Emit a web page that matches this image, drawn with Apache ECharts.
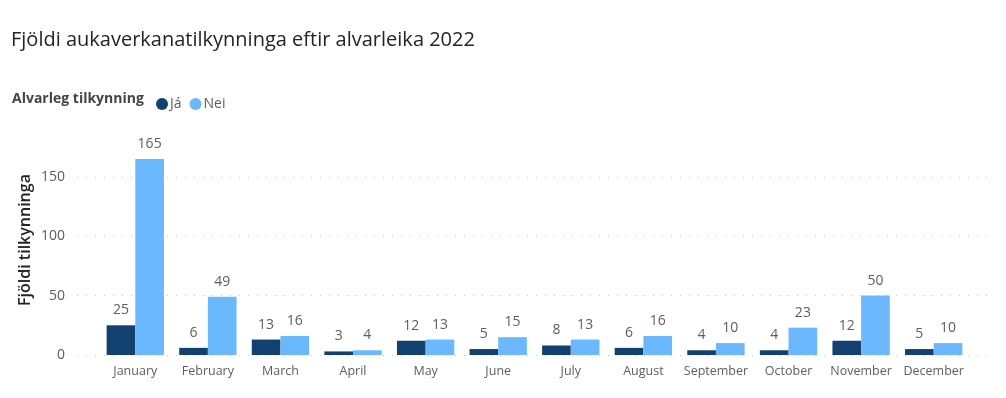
<!DOCTYPE html>
<html>
<head>
<meta charset="utf-8">
<script src="https://cdn.jsdelivr.net/npm/echarts@6/dist/echarts.min.js"></script>
<style>
  html, body { margin: 0; padding: 0; background: #fff; }
  #chart { width: 1006px; height: 398px; }
</style>
</head>
<body>
<div id="chart"></div>
<script>
const months = ['January', 'February', 'March', 'April', 'May', 'June', 'July', 'August', 'September', 'October', 'November', 'December'];
const jaValues = [25, 6, 13, 3, 12, 5, 8, 6, 4, 4, 12, 5];
const neiValues = [165, 49, 16, 4, 13, 15, 13, 16, 10, 23, 50, 10];
const yTicks = [0, 50, 100, 150];

const font = '"Open Sans", "Noto Sans", sans-serif';
const gray = '#605E5C';

const chart = echarts.init(document.getElementById('chart'));

// y scale shared by both grids
const yMax = 170;

chart.setOption({
    animation: false,
    textStyle: { fontFamily: font },
    title: {
        text: 'Fjöldi aukaverkanatilkynninga eftir alvarleika 2022',
        left: 6,
        top: 25,
        textStyle: { fontSize: 20, fontWeight: 'normal', color: '#252423', fontFamily: font }
    },
    graphic: [
        {
            type: 'text',
            left: 12,
            top: 92,
            style: { text: 'Alvarleg tilkynning', fontSize: 14, fontWeight: 'bold', fill: '#444', fontFamily: font }
        },
        {
            // y axis title
            type: 'text',
            x: 25,
            y: 240,
            rotation: Math.PI / 2,
            style: {
                text: 'Fjöldi tilkynninga', fontSize: 16, fontWeight: 600, fill: '#252423',
                fontFamily: font, align: 'center', verticalAlign: 'middle'
            }
        }
    ],
    legend: {
        left: 151,
        top: 92,
        icon: 'circle',
        itemWidth: 12,
        itemHeight: 12,
        itemGap: 8,
        textStyle: { fontSize: 14, color: gray, padding: [0, 0, 0, -3] },
        data: ['Já', 'Nei']
    },
    grid: [
        // gridlines + y labels
        { left: 77, right: 16, top: 153, bottom: 43 },
        // bars
        { left: 99, right: 36, top: 153, bottom: 43 }
    ],
    xAxis: [
        { type: 'category', gridIndex: 0, data: months, show: false },
        {
            type: 'category', gridIndex: 1, data: months,
            axisLine: { show: false },
            axisTick: { show: false },
            axisLabel: { color: gray, fontSize: 12.5, margin: 10, interval: 0 }
        }
    ],
    yAxis: [
        {
            type: 'value', gridIndex: 0, min: 0, max: yMax, interval: 50,
            axisLabel: {
                color: gray, fontSize: 14, margin: 12, showMaxLabel: false,
                formatter: v => (yTicks.indexOf(v) >= 0 ? String(v) : '')
            },
            splitLine: { show: true, showMaxLine: false, lineStyle: { color: '#C8C6C4', type: [1, 8], width: 1 } }
        },
        {
            type: 'value', gridIndex: 1, min: 0, max: yMax, interval: 50, show: false,
            splitLine: { show: false }
        }
    ],
    series: [
        {
            name: 'Já', type: 'bar', xAxisIndex: 1, yAxisIndex: 1,
            data: jaValues,
            barGap: '0%', barCategoryGap: '21%',
            itemStyle: { color: '#12406F' },
            label: { show: true, position: 'top', distance: 8, fontSize: 14, color: gray }
        },
        {
            name: 'Nei', type: 'bar', xAxisIndex: 1, yAxisIndex: 1,
            data: neiValues,
            barGap: '0%', barCategoryGap: '21%',
            itemStyle: { color: '#6CB8FF' },
            label: { show: true, position: 'top', distance: 8, fontSize: 14, color: gray }
        }
    ]
});
</script>
</body>
</html>
